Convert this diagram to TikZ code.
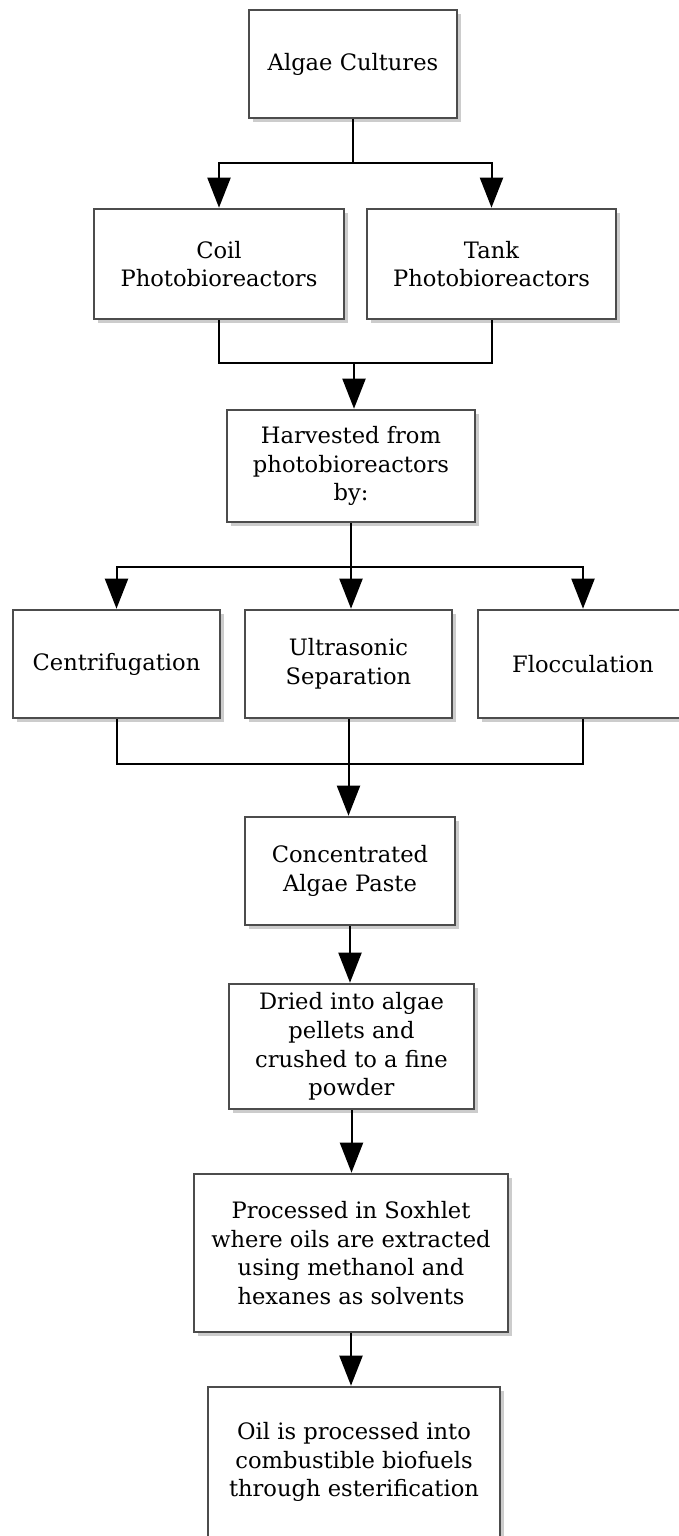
\documentclass[tikz,border=0pt]{standalone}
\usepackage{fontspec}
\setmainfont{DejaVu Serif}
\usetikzlibrary{positioning}
\usetikzlibrary{arrows.meta,shadows}

\begin{document}
\begin{tikzpicture}[x=0.5pt,y=-0.5pt,->,>={Triangle[length=15pt,width=11.5pt]},
                line width=1pt,
                main node/.style={rectangle,draw=black!70,line width=1.3pt,fill=white,
                  drop shadow={shadow xshift=2pt,shadow yshift=-2pt,opacity=.4},
                  align=center,inner sep=2pt,font=\fontsize{11.3}{14.3}\selectfont}]

  \useasboundingbox (0,0) rectangle (679,1536);

  \node[main node,minimum width=104pt,minimum height=54pt] (algae) at (353,64) {Algae Cultures};
  \node[main node,minimum width=125pt,minimum height=55pt] (coil) at (219,264) {Coil\\Photobioreactors};
  \node[main node,minimum width=124.5pt,minimum height=55pt] (tank) at (491.5,264) {Tank\\Photobioreactors};
  \node[main node,minimum width=124pt,minimum height=56pt] (harv) at (351,466) {Harvested from\\photobioreactors\\by:};
  \node[main node,minimum width=103.5pt,minimum height=54pt] (cent) at (116.5,664) {Centrifugation};
  \node[main node,minimum width=103.5pt,minimum height=54pt] (ultra) at (348.5,664) {Ultrasonic\\Separation};
  \node[main node,minimum width=105pt,minimum height=54pt] (floc) at (583,664) {Flocculation};
  \node[main node,minimum width=105pt,minimum height=54pt] (conc) at (350,871) {Concentrated\\Algae Paste};
  \node[main node,minimum width=122.5pt,minimum height=62.5pt] (dried) at (351.5,1046.5) {Dried into algae\\pellets and\\crushed to a fine\\powder};
  \node[main node,minimum width=157pt,minimum height=79pt] (proc) at (351,1253) {Processed in Soxhlet\\where oils are extracted\\using methanol and\\hexanes as solvents};
  \node[main node,minimum width=146pt,minimum height=75pt] (oil) at (354,1462) {Oil is processed into\\combustible biofuels\\through esterification};

  \coordinate (j1) at (353,163);
  \coordinate (j2) at (354,363);
  \coordinate (j3) at (351,567);
  \coordinate (j4) at (349,764);

  \draw[-] (algae.south) -- (j1);
  \draw (j1) -| (coil.north);
  \draw (j1) -| (tank.north);
  \draw[-] (coil.south) |- (j2) -| (tank.south);
  \draw (j2) -- (j2 |- harv.north);
  \draw[-] (harv.south) -- (j3);
  \draw (j3) -| (cent.north);
  \draw (j3) -- (j3 |- ultra.north);
  \draw (j3) -| (floc.north);
  \draw[-] (cent.south) |- (j4) -| (floc.south);
  \draw (ultra.south) -- (ultra.south |- conc.north);
  \draw (conc.south) -- (conc.south |- dried.north);
  \draw (dried.south) -- (dried.south |- proc.north);
  \draw (proc.south) -- (proc.south |- oil.north);
\end{tikzpicture}
\end{document}
